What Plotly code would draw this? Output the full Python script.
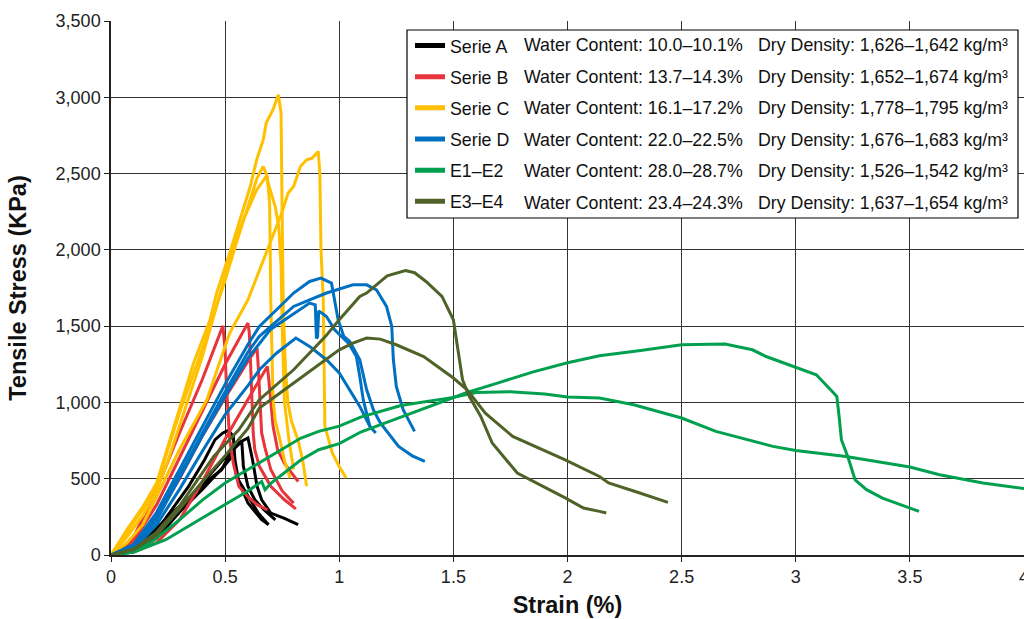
import plotly.graph_objects as go

# ---------------- data ----------------
series_names = ["Serie A", "Serie B", "Serie C", "Serie D", "E1–E2", "E3–E4"]
water_content = ["10.0–10.1%", "13.7–14.3%", "16.1–17.2%", "22.0–22.5%", "28.0–28.7%", "23.4–24.3%"]
dry_density = ["1,626–1,642", "1,652–1,674", "1,778–1,795", "1,676–1,683", "1,526–1,542", "1,637–1,654"]
colors = ["#000000", "#E8343B", "#FFC000", "#0070C0", "#00A04E", "#4F6228"]

x_ticks = [0, 0.5, 1, 1.5, 2, 2.5, 3, 3.5, 4]
x_tick_labels = ["0", "0.5", "1", "1.5", "2", "2.5", "3", "3.5", "4"]
y_ticks = [0, 500, 1000, 1500, 2000, 2500, 3000, 3500]

# Serie A (black)
serie_a_strain = [
    [0, 0.09, 0.193, 0.266, 0.34, 0.41, 0.456, 0.49, 0.514, 0.536, 0.543, 0.558, 0.60, 0.645, 0.69],
    [0, 0.15, 0.266, 0.34, 0.41, 0.485, 0.53, 0.558, 0.60, 0.62, 0.64, 0.66, 0.70, 0.76, 0.82],
    [0, 0.1, 0.2, 0.3, 0.4, 0.5, 0.573, 0.58, 0.60, 0.63, 0.67, 0.72],
    [0, 0.1, 0.2, 0.3, 0.4, 0.5, 0.536, 0.55, 0.60, 0.66, 0.69],
]
serie_a_stress = [
    [0, 35, 144, 297, 450, 624, 756, 800, 817, 777, 624, 493, 384, 275, 199],
    [0, 100, 275, 370, 472, 559, 690, 734, 767, 624, 450, 362, 275, 240, 199],
    [0, 30, 130, 300, 470, 640, 745, 581, 450, 362, 297, 231],
    [0, 25, 110, 280, 430, 590, 657, 515, 341, 231, 199],
]

# Serie B (red)
serie_b_strain = [
    [0, 0.05, 0.1, 0.2, 0.3, 0.4, 0.49, 0.50, 0.505, 0.514, 0.52, 0.536, 0.56, 0.60, 0.64, 0.685],
    [0, 0.1, 0.2, 0.3, 0.4, 0.5, 0.60, 0.606, 0.612, 0.616, 0.623, 0.63, 0.65, 0.70, 0.76, 0.81],
    [0, 0.1, 0.2, 0.3, 0.4, 0.5, 0.6, 0.64, 0.645, 0.652, 0.66, 0.675, 0.70, 0.75, 0.80],
    [0, 0.1, 0.2, 0.3, 0.4, 0.5, 0.6, 0.685, 0.69, 0.70, 0.71, 0.73, 0.76, 0.79, 0.82],
]
serie_b_stress = [
    [0, 30, 120, 430, 800, 1150, 1502, 1345, 1127, 908, 756, 600, 450, 380, 330, 296],
    [0, 90, 330, 640, 950, 1250, 1520, 1455, 1236, 1018, 800, 690, 581, 450, 362, 302],
    [0, 60, 250, 500, 780, 1030, 1270, 1357, 1236, 1018, 800, 700, 560, 420, 340],
    [0, 20, 80, 230, 480, 760, 1020, 1236, 1170, 1018, 843, 690, 600, 540, 482],
]

# Serie C (yellow)
serie_c_strain = [
    [0, 0.07, 0.14, 0.2, 0.245, 0.3, 0.36, 0.434, 0.463, 0.52, 0.565, 0.61, 0.638, 0.667, 0.68, 0.71,
     0.733, 0.745, 0.75, 0.755, 0.765, 0.775, 0.79, 0.82, 0.84, 0.857],
    [0, 0.07, 0.14, 0.2, 0.25, 0.3, 0.4, 0.5, 0.55, 0.6, 0.64, 0.667, 0.685, 0.695, 0.70, 0.71, 0.72,
     0.74, 0.76, 0.784],
    [0, 0.07, 0.14, 0.2, 0.25, 0.3, 0.4, 0.5, 0.536, 0.58, 0.638, 0.68, 0.70, 0.72, 0.735, 0.745, 0.75,
     0.76, 0.78, 0.80],
    [0, 0.07, 0.14, 0.2, 0.3, 0.42, 0.52, 0.60, 0.667, 0.748, 0.776, 0.80, 0.83, 0.857, 0.88, 0.908,
     0.915, 0.92, 0.93, 0.937, 0.97, 1.0, 1.03],
]
serie_c_stress = [
    [0, 166, 318, 472, 690, 950, 1250, 1542, 1717, 1979, 2197, 2415, 2590, 2721, 2831, 2920,
     3016, 2900, 2200, 1600, 1200, 1000, 880, 750, 620, 450],
    [0, 150, 300, 460, 690, 930, 1350, 1800, 2050, 2280, 2470, 2546, 2480, 2300, 1673, 1018, 880,
     756, 620, 505],
    [0, 120, 260, 420, 620, 850, 1300, 1830, 2022, 2197, 2393, 2481, 2380, 2280, 2150, 1900, 1500,
     1000, 750, 560],
    [0, 80, 200, 380, 690, 1018, 1455, 1673, 1935, 2241, 2372, 2415, 2546, 2590, 2600, 2645,
     2500, 2000, 1673, 843, 668, 580, 505],
]

# Serie D (blue)
serie_d_strain = [
    [0, 0.1, 0.2, 0.3, 0.4, 0.5, 0.6, 0.65, 0.74, 0.80, 0.87, 0.92, 0.966, 0.98, 0.995, 1.02, 1.046,
     1.09, 1.12, 1.15, 1.18, 1.26, 1.32, 1.375],
    [0, 0.1, 0.2, 0.3, 0.4, 0.5, 0.6, 0.65, 0.8, 0.944, 1.06, 1.12, 1.163, 1.207, 1.23, 1.237, 1.25,
     1.28, 1.33],
    [0, 0.1, 0.2, 0.3, 0.4, 0.5, 0.6, 0.7, 0.8, 0.87, 0.895, 0.90, 0.905, 0.91, 0.944, 0.98, 1.04,
     1.075, 1.09, 1.105, 1.134],
    [0, 0.1, 0.2, 0.3, 0.4, 0.5, 0.6, 0.65, 0.726, 0.81, 0.87, 0.944, 1.0, 1.046, 1.09, 1.134, 1.16],
]
serie_d_stress = [
    [0, 70, 280, 560, 850, 1120, 1380, 1498, 1629, 1717, 1793, 1815, 1782, 1673, 1542, 1433, 1400,
     1280, 1083, 950, 865, 712, 650, 613],
    [0, 60, 250, 520, 800, 1070, 1330, 1433, 1629, 1717, 1771, 1771, 1738, 1629, 1498, 1280, 1105,
     952, 810],
    [0, 50, 230, 500, 780, 1040, 1290, 1480, 1580, 1651, 1640, 1420, 1430, 1600, 1563, 1476, 1389,
     1301, 1170, 1018, 843],
    [0, 40, 200, 430, 680, 920, 1110, 1214, 1324, 1422, 1367, 1280, 1193, 1083, 974, 843, 800],
]

# E1–E2 (green)
serie_e12_strain = [
    [0, 0.1, 0.24, 0.35, 0.485, 0.6, 0.66, 0.675, 0.7, 0.83, 0.91, 1.0, 1.094, 1.27, 1.5, 1.56, 1.7,
     1.85, 2.0, 2.14, 2.32, 2.5, 2.69, 2.81, 2.87, 3.0, 3.09, 3.16, 3.18, 3.19, 3.20, 3.23, 3.26,
     3.31, 3.38, 3.54],
    [0, 0.1, 0.19, 0.3, 0.4, 0.5, 0.6, 0.7, 0.83, 0.91, 1.0, 1.094, 1.27, 1.5, 1.6, 1.75, 1.9, 2.0,
     2.14, 2.29, 2.5, 2.65, 2.9, 3.0, 3.22, 3.5, 3.63, 3.82, 3.98, 4.05],
]
serie_e12_stress = [
    [0, 20, 100, 200, 318, 420, 482, 428, 470, 621, 690, 730, 806, 904, 1030, 1065, 1130,
     1200, 1260, 1306, 1340, 1378, 1383, 1345, 1301, 1232, 1181, 1072, 1039, 908, 756, 636, 493,
     428, 373, 286],
    [0, 20, 100, 230, 360, 472, 560, 650, 765, 810, 845, 904, 980, 1033, 1065, 1070, 1055, 1035,
     1029, 985, 898, 810, 712, 685, 646, 577, 526, 472, 439, 425],
]

# E3–E4 (olive)
serie_e34_strain = [
    [0, 0.1, 0.2, 0.3, 0.45, 0.56, 0.65, 0.80, 0.94, 1.0, 1.09, 1.12, 1.21, 1.29, 1.33, 1.38, 1.45,
     1.50, 1.52, 1.54, 1.57, 1.62, 1.67, 1.78, 1.99, 2.07, 2.14, 2.17],
    [0, 0.1, 0.2, 0.3, 0.4, 0.5, 0.6, 0.65, 0.73, 0.80, 0.92, 1.0, 1.06, 1.12, 1.18, 1.25, 1.37, 1.50,
     1.56, 1.64, 1.76, 1.99, 2.14, 2.18, 2.31, 2.44],
]
serie_e34_stress = [
    [0, 40, 150, 320, 646, 821, 1018, 1214, 1433, 1542, 1695, 1717, 1830, 1865, 1850, 1793, 1695,
     1542, 1345, 1149, 1039, 908, 734, 537, 374, 308, 286, 275],
    [0, 35, 130, 300, 480, 650, 830, 963, 1050, 1127, 1258, 1345, 1389, 1422, 1415, 1378, 1301, 1160,
     1083, 930, 777, 624, 515, 472, 410, 345],
]

all_strain = [serie_a_strain, serie_b_strain, serie_c_strain, serie_d_strain, serie_e12_strain, serie_e34_strain]
all_stress = [serie_a_stress, serie_b_stress, serie_c_stress, serie_d_stress, serie_e12_stress, serie_e34_stress]

# ---------------- figure ----------------
FONT = "Arial, 'Liberation Sans', Helvetica, sans-serif"
W, H = 1024, 619
ML, MR, MT, MB = 111, 0, 21, 64
PW, PH = W - ML - MR, H - MT - MB


def px_x(p):
    return (p - ML) / PW


def px_y(p):
    return (H - MB - p) / PH


fig = go.Figure()
for i, name in enumerate(series_names):
    for k, (xs, ys) in enumerate(zip(all_strain[i], all_stress[i])):
        fig.add_trace(go.Scatter(
            x=xs, y=ys, mode="lines", name=name,
            legendgroup=name, showlegend=(k == 0),
            line=dict(color=colors[i], width=3),
        ))

# legend box
fig.add_shape(type="rect", xref="paper", yref="paper",
              x0=px_x(407), x1=px_x(1018), y0=px_y(218), y1=px_y(30),
              fillcolor="white", line=dict(color="black", width=1.2), layer="above")

LEG_FS = 17.8
row_y = [45 + 31.6 * i for i in range(6)]
for i in range(6):
    fig.add_annotation(xref="paper", yref="paper", x=px_x(522), y=px_y(row_y[i]),
                       xanchor="left", yanchor="middle", showarrow=False,
                       text="Water Content: " + water_content[i],
                       font=dict(family=FONT, size=LEG_FS, color="#111"))
    fig.add_annotation(xref="paper", yref="paper", x=px_x(756), y=px_y(row_y[i]),
                       xanchor="left", yanchor="middle", showarrow=False,
                       text="Dry Density: " + dry_density[i] + " kg/m³",
                       font=dict(family=FONT, size=LEG_FS, color="#111"))

fig.update_layout(
    width=W, height=H,
    margin=dict(l=ML, r=MR, t=MT, b=MB, pad=0),
    paper_bgcolor="white", plot_bgcolor="white",
    font=dict(family=FONT, size=18, color="#222"),
    showlegend=True,
    legend=dict(
        x=px_x(410), y=px_y(27.5), xanchor="left", yanchor="top",
        bgcolor="rgba(0,0,0,0)", borderwidth=0,
        font=dict(family=FONT, size=LEG_FS, color="#111"),
        tracegroupgap=5, traceorder="grouped",
        itemsizing="constant",
    ),
)

fig.update_xaxes(
    range=[0, 4], tickvals=x_ticks, ticktext=x_tick_labels,
    showgrid=True, gridcolor="#333333", gridwidth=1,
    showline=True, linecolor="#222", linewidth=1.5,
    ticks="outside", ticklen=5, tickcolor="#222",
    zeroline=False, automargin=False, ticklabeloverflow="allow",
    tickfont=dict(family=FONT, size=18, color="#222"),
    title=dict(text="<b>Strain (%)</b>", font=dict(family=FONT, size=23.5, color="#111"), standoff=10),
)
fig.update_yaxes(
    range=[0, 3500], tickvals=y_ticks, tickformat=",d",
    showgrid=True, gridcolor="#333333", gridwidth=1,
    showline=True, linecolor="#222", linewidth=1.5,
    ticks="outside", ticklen=5, tickcolor="#222",
    zeroline=False, automargin=False,
    tickfont=dict(family=FONT, size=18, color="#222"),
    title=dict(text="<b>Tensile Stress (KPa)</b>", font=dict(family=FONT, size=23.5, color="#111"), standoff=22),
)

fig.write_html("out.html")
